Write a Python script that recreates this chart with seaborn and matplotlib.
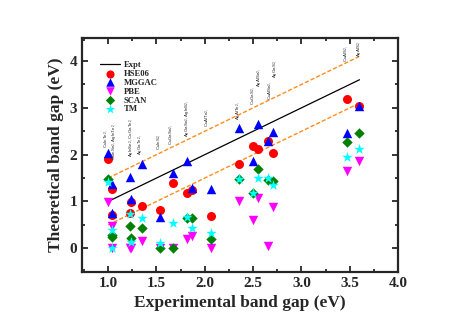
import matplotlib
matplotlib.use("Agg")
import matplotlib.pyplot as plt
import matplotlib.font_manager as fm
import seaborn as sns
import numpy as np
import pandas as pd
from matplotlib.ticker import MultipleLocator

# ---- data ----
compounds = ["CuInTe2", "CuInSe2", "AgInTe2", "AgInSe2", "CuGaTe2", "AgGaTe2",
             "CuInS2", "CuGaSe2", "AgGaSe2", "AgInS2", "CuAlTe2", "AgAlTe2",
             "CuGaS2", "AgAlSe2", "CuAlSe2", "AgGaS2", "CuAlS2", "AgAlS2"]
expt = [1.00, 1.04, 1.04, 1.24, 1.23, 1.35, 1.54, 1.67, 1.82, 1.87, 2.06, 2.35,
        2.50, 2.55, 2.65, 2.71, 3.47, 3.60]
hse06 = [1.90, 1.26, 0.71, 0.99, 0.76, 0.90, 0.81, 1.39, 1.18, 1.24, 0.69, 1.80,
         2.18, 2.13, 2.30, 2.04, 3.19, 3.05]
mggac = [2.04, 1.38, 0.76, 1.06, 1.53, 1.81, 0.67, 1.60, 1.87, 1.28, 1.26, 2.56,
         1.87, 2.66, 2.30, 2.48, 2.47, 3.05]
pbe = [0.98, 0.47, 0.00, 0.01, 0.00, 0.16, 0.00, 0.00, 0.19, 0.26, 0.00, 1.01,
       0.61, 1.08, 0.05, 0.88, 1.66, 1.86]
scan = [1.47, 0.28, 0.25, 0.21, 0.47, 0.44, 0.00, 0.00, 0.64, 0.64, 0.19, 1.47,
        1.18, 1.69, 1.46, 1.43, 2.28, 2.47]
tm = [1.41, 0.39, 0.00, 0.14, 0.73, 0.65, 0.11, 0.54, 0.67, 0.44, 0.33, 1.48,
      1.18, 1.51, 1.51, 1.35, 1.94, 2.13]

line_x = [1.0, 3.6]

label_texts = ["CuInTe$_2$,", "CuInSe$_2$, AgInTe$_2$,", "AgInSe$_2$, CuGaTe$_2$,",
               "AgGaTe$_2$,", "CuInS$_2$,", "CuGaSe$_2$,", "AgGaSe$_2$, AgInS$_2$,",
               "CuAlTe$_2$,", "AgAlTe$_2$,", "CuGaS$_2$,", "AgAlSe$_2$,",
               "CuAlSe$_2$,", "AgGaS$_2$,", "CuAlS$_2$,", "AgAlS$_2$,"]
label_x = [0.985, 1.06, 1.235, 1.335, 1.53, 1.66, 1.82, 2.03, 2.34, 2.50, 2.56,
           2.675, 2.725, 3.46, 3.59]
label_y = [2.14, 1.88, 1.96, 1.99, 2.10, 2.21, 2.38, 2.60, 2.74, 3.06, 3.45,
           3.17, 3.64, 3.98, 4.09]

# ---- plot ----
sns.set_style("ticks")
plt.rcParams['font.family'] = ['Liberation Serif', 'DejaVu Serif']

try:
    fm.findfont("Liberation Sans Narrow", fallback_to_default=False)
    small_family = "Liberation Sans Narrow"
    small_size = 3.7
except Exception:
    small_family = "Liberation Sans"
    small_size = 3.2
plt.rcParams['mathtext.fontset'] = 'custom'
plt.rcParams['mathtext.rm'] = small_family
plt.rcParams['mathtext.it'] = small_family

fig = plt.figure(figsize=(4.63, 3.27), dpi=100)
ax = fig.add_axes([0.177, 0.169, 0.683, 0.716])

lx = np.array(line_x)
sns.lineplot(x=lx, y=lx, color="black", lw=0.9, ax=ax, label="Expt")
sns.lineplot(x=lx, y=lx + 0.5, color="#ff8c1a", lw=1.0, ax=ax, linestyle=(0, (3, 1.5)))
sns.lineplot(x=lx, y=lx - 0.5, color="#ff8c1a", lw=1.0, ax=ax, linestyle=(0, (3, 1.5)))

series = [("HSE06", hse06, "o", "#ff0000", 42),
          ("MGGAC", mggac, "^", "#0000ff", 46),
          ("PBE", pbe, "v", "#ff00ff", 46),
          ("SCAN", scan, "D", "#008000", 28),
          ("TM", tm, "*", "#00ffff", 62)]
for name, vals, mk, col, s in series:
    sns.scatterplot(x=expt, y=vals, marker=mk, color=col, s=s, linewidth=0,
                    ax=ax, label=name, zorder=3)

for t, x, y in zip(label_texts, label_x, label_y):
    ax.text(x, y, t, rotation=90, ha="center", va="bottom", fontsize=small_size,
            family=small_family)

ax.set_xlim(0.73, 4.0)
ax.set_ylim(-0.5, 4.5)
ax.xaxis.set_major_locator(MultipleLocator(0.5))
ax.xaxis.set_minor_locator(MultipleLocator(0.25))
ax.yaxis.set_major_locator(MultipleLocator(1))
ax.yaxis.set_minor_locator(MultipleLocator(0.5))
ax.tick_params(which="both", direction="in", top=True, right=True, width=1.3)
ax.tick_params(which="major", length=4, labelsize=11)
ax.tick_params(which="minor", length=2.5)
for lbl in ax.get_xticklabels() + ax.get_yticklabels():
    lbl.set_fontweight("bold")
for sp in ax.spines.values():
    sp.set_linewidth(1.6)

ax.set_xlabel("Experimental band gap (eV)", fontsize=12.5, fontweight="bold")
ax.set_ylabel("Theoretical band gap (eV)", fontsize=12.5, fontweight="bold")

leg = ax.legend(loc="upper left", bbox_to_anchor=(0.045, 0.915), frameon=False,
                prop={"family": "Liberation Serif", "weight": "bold", "size": 6.2},
                handlelength=2.4, labelspacing=0.1, handletextpad=0.4,
                borderaxespad=0, markerscale=0.9)

fig.savefig("out.png", dpi=100)
